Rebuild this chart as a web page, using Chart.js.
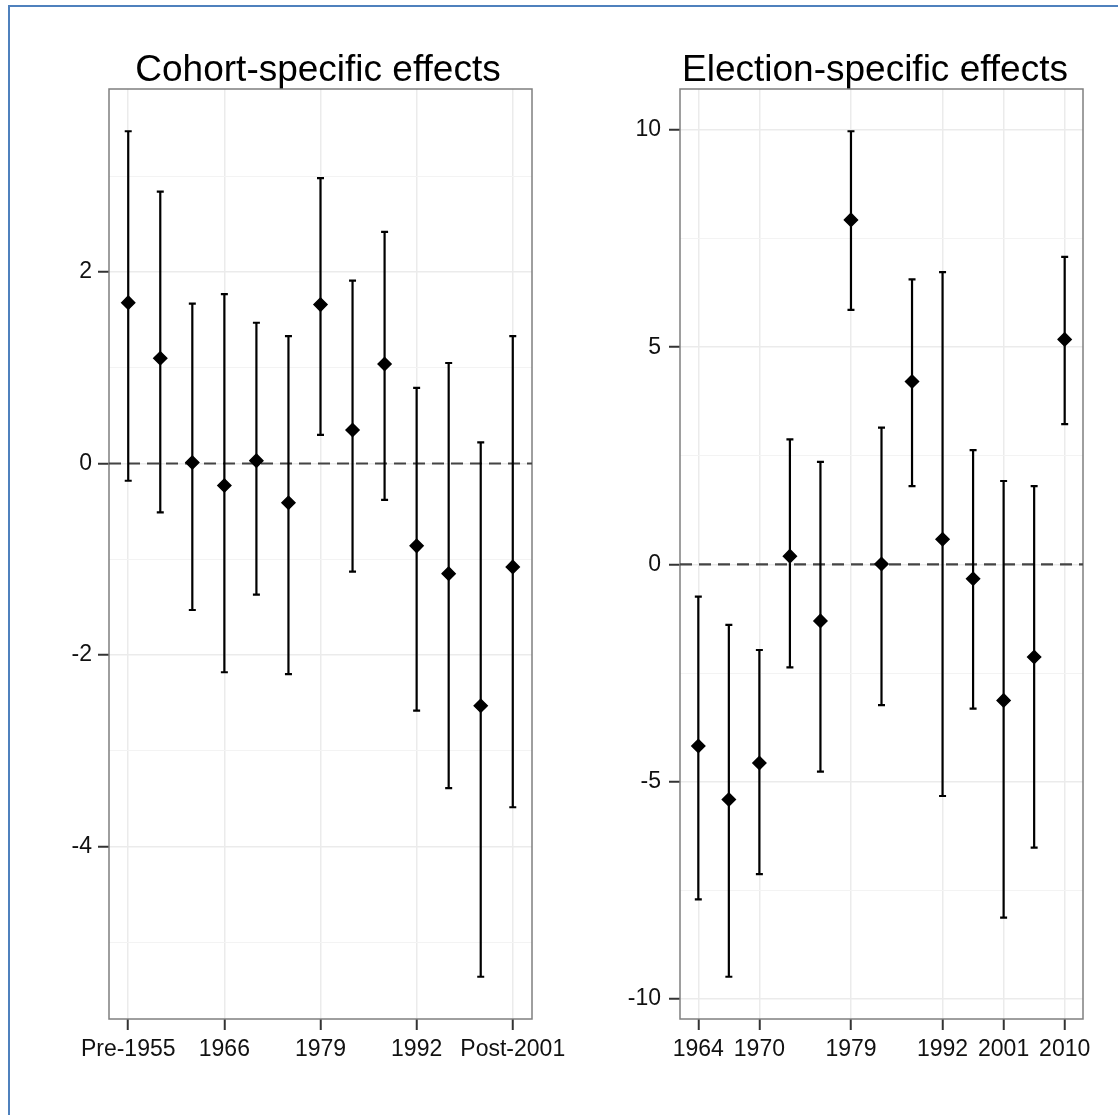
<!DOCTYPE html>
<html>
<head>
<meta charset="utf-8">
<script src="https://cdn.jsdelivr.net/npm/chart.js@4.4.1/dist/chart.umd.min.js"></script>
<style>
  html, body { margin: 0; padding: 0; background: #fff; overflow: hidden; }
  #page { position: relative; width: 1118px; height: 1115px; overflow: hidden; }
  #frame { position: absolute; left: 8px; top: 5px; width: 1200px; height: 1200px; border: 2px solid #4f81bd; }
  canvas { position: absolute; top: 0; }
  #cohort { left: 0; }
  #election { left: 560px; }
</style>
</head>
<body>
<div id="page">
  <div id="frame"></div>
  <canvas id="cohort" width="636" height="1115"></canvas>
  <canvas id="election" width="630" height="1115"></canvas>
</div>
<script>
// cohort panel
const cohortTickPos = [0, 3, 6, 9, 12];
const cohortTickLabels = ["Pre-1955", "1966", "1979", "1992", "Post-2001"];
const cohortEst = [1.68, 1.10, 0.01, -0.23, 0.03, -0.41, 1.66, 0.35, 1.04, -0.86, -1.15, -2.53, -1.08];
const cohortLow = [-0.18, -0.51, -1.53, -2.18, -1.37, -2.20, 0.30, -1.13, -0.38, -2.58, -3.39, -5.36, -3.59];
const cohortHigh = [3.47, 2.84, 1.67, 1.77, 1.47, 1.33, 2.98, 1.91, 2.42, 0.79, 1.05, 0.22, 1.33];
const cohortYTicks = [-5, -4, -3, -2, -1, 0, 1, 2, 3];
const cohortYLabels = [-4, -2, 0, 2];

// election panel
const elections = ["1964", "1966", "1970", "1974 Feb", "1974 Oct", "1979", "1983", "1987", "1992", "1997", "2001", "2005", "2010"];
const electionTickLabels = ["1964", "1970", "1979", "1992", "2001", "2010"];
const electionEst = [-4.18, -5.41, -4.57, 0.19, -1.30, 7.93, 0.01, 4.21, 0.58, -0.33, -3.13, -2.13, 5.18];
const electionLow = [-7.71, -9.49, -7.13, -2.37, -4.77, 5.86, -3.24, 1.80, -5.33, -3.32, -8.13, -6.52, 3.23];
const electionHigh = [-0.74, -1.39, -1.97, 2.88, 2.36, 9.97, 3.15, 6.56, 6.73, 2.63, 1.92, 1.80, 7.08];
const electionYTicks = [-10, -7.5, -5, -2.5, 0, 2.5, 5, 7.5, 10];
const electionYLabels = [-10, -5, 0, 5, 10];

const FONT = "'Liberation Sans', Arial, sans-serif";

const errorBars = {
  id: "errorBars",
  beforeDatasetsDraw(chart) {
    const { ctx, chartArea: a, scales: { x, y } } = chart;
    const ds = chart.data.datasets[0];
    ctx.save();
    // panel border
    ctx.strokeStyle = "#7f7f7f";
    ctx.lineWidth = 1.5;
    ctx.strokeRect(a.left, a.top, a.width, a.height);
    // zero reference line
    const y0 = y.getPixelForValue(0);
    ctx.strokeStyle = "#444";
    ctx.lineWidth = 2.2;
    ctx.setLineDash([12, 7]);
    ctx.beginPath();
    ctx.moveTo(a.left, y0);
    ctx.lineTo(a.right, y0);
    ctx.stroke();
    ctx.setLineDash([]);
    // intervals
    ctx.strokeStyle = "#000";
    ctx.lineWidth = 2.2;
    ds.low.forEach((lo, i) => {
      const px = x.getPixelForValue(i);
      const pLo = y.getPixelForValue(lo);
      const pHi = y.getPixelForValue(ds.high[i]);
      ctx.beginPath();
      ctx.moveTo(px, pLo);
      ctx.lineTo(px, pHi);
      ctx.moveTo(px - 3.5, pLo);
      ctx.lineTo(px + 3.5, pLo);
      ctx.moveTo(px - 3.5, pHi);
      ctx.lineTo(px + 3.5, pHi);
      ctx.stroke();
    });
    ctx.restore();
  },
};

function makePanel(id, cfg) {
  const lo = Math.min(...cfg.low);
  const hi = Math.max(...cfg.high);
  const pad = (hi - lo) * 0.05;
  return new Chart(document.getElementById(id), {
    type: "scatter",
    data: {
      datasets: [{
        data: cfg.est.map((v, i) => ({ x: i, y: v })),
        low: cfg.low,
        high: cfg.high,
        pointStyle: "rectRot",
        pointRadius: 6.5,
        pointBackgroundColor: "#000",
        pointBorderColor: "#000",
        pointBorderWidth: 1.5,
      }],
    },
    options: {
      responsive: false,
      animation: false,
      layout: { padding: 0 },
      plugins: {
        legend: { display: false },
        tooltip: { enabled: false },
        title: {
          display: true,
          text: cfg.title,
          color: "#000",
          font: { family: FONT, size: 37, weight: "normal", lineHeight: 1 },
          padding: { top: 52, bottom: 0 },
        },
      },
      scales: {
        x: {
          type: "linear",
          min: -0.6,
          max: cfg.est.length - 1 + 0.6,
          afterBuildTicks: (s) => { s.ticks = cfg.xTickPos.map((v) => ({ value: v })); },
          afterFit: (s) => { s.height = 96; },
          border: { display: false },
          grid: { color: "#ebebeb", lineWidth: 1.5, tickLength: 11, tickColor: "#333", tickWidth: 2 },
          ticks: {
            autoSkip: false,
            maxRotation: 0,
            padding: 6,
            color: "#111",
            font: { family: FONT, size: 23 },
            callback: (v) => cfg.xTickLabels[cfg.xTickPos.indexOf(v)],
          },
        },
        y: {
          type: "linear",
          min: lo - pad,
          max: hi + pad,
          afterBuildTicks: (s) => { s.ticks = cfg.yTicks.map((v) => ({ value: v })); },
          afterFit: (s) => { s.width = cfg.plotLeft; },
          border: { display: false },
          grid: {
            color: (c) => (cfg.yLabels.includes(c.tick.value) ? "#ebebeb" : "#f3f3f3"),
            lineWidth: (c) => (cfg.yLabels.includes(c.tick.value) ? 1.5 : 1),
            tickLength: 11,
            tickColor: (c) => (cfg.yLabels.includes(c.tick.value) ? "#333" : "rgba(0,0,0,0)"),
            tickWidth: 2,
          },
          ticks: {
            autoSkip: false,
            padding: cfg.yPad,
            color: "#111",
            font: { family: FONT, size: 23 },
            callback: (v) => (cfg.yLabels.includes(v) ? String(v) : ""),
          },
        },
        // empty spacer on the right so the title centres like the original
        spacer: {
          type: "linear",
          position: "right",
          grid: { display: false },
          border: { display: false },
          ticks: { display: false },
          afterFit: (s) => { s.width = cfg.spaceRight; },
        },
      },
    },
    plugins: [errorBars],
  });
}

makePanel("cohort", {
  title: "Cohort-specific effects",
  est: cohortEst,
  low: cohortLow,
  high: cohortHigh,
  xTickPos: cohortTickPos,
  xTickLabels: cohortTickLabels,
  yTicks: cohortYTicks,
  yLabels: cohortYLabels,
  plotLeft: 109,
  spaceRight: 104,
  yPad: 6,
});

makePanel("election", {
  title: "Election-specific effects",
  est: electionEst,
  low: electionLow,
  high: electionHigh,
  xTickPos: electionTickLabels.map((l) => elections.indexOf(l)),
  xTickLabels: electionTickLabels,
  yTicks: electionYTicks,
  yLabels: electionYLabels,
  plotLeft: 120,
  spaceRight: 107,
  yPad: 8,
});
</script>
</body>
</html>
